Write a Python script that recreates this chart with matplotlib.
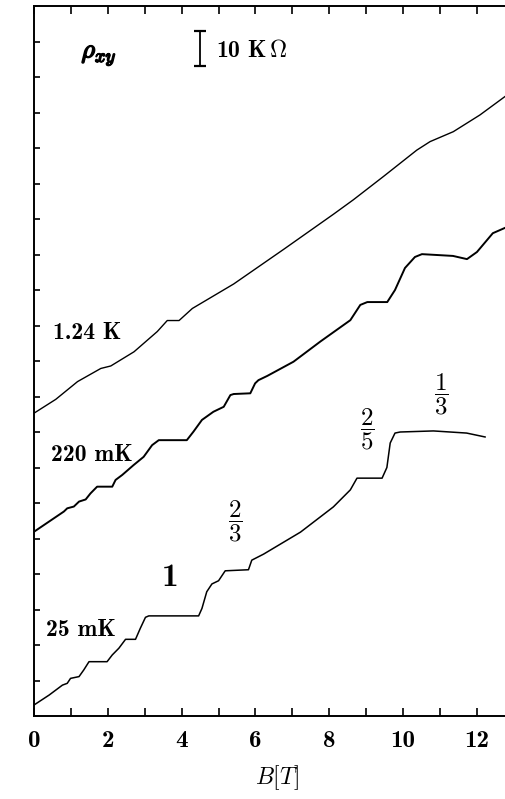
import matplotlib
matplotlib.use("Agg")
import matplotlib.pyplot as plt
from matplotlib.ticker import MultipleLocator, FuncFormatter
import matplotlib.patheffects as pe

plt.rcParams["mathtext.fontset"] = "cm"
# cmb10 ships with matplotlib (Computer Modern bold)
plt.rcParams["font.family"] = ["cmb10", "DejaVu Serif"]

# ---- data: rho_xy in units of 10 kOhm (curves offset vertically) ----
b_124K = [0.0, 0.59, 1.18, 1.81, 2.08, 2.71, 3.34, 3.61, 3.93, 4.29, 5.41,
          6.77, 8.12, 8.65, 9.47, 10.37, 10.73, 11.36, 12.08, 12.76]
r_124K = [8.53, 8.92, 9.42, 9.79, 9.86, 10.26, 10.83, 11.14, 11.14, 11.48,
          12.17, 13.15, 14.14, 14.54, 15.2, 15.94, 16.18, 16.46, 16.93, 17.45]

b_220mK = [0.0, 0.54, 0.81, 0.9, 1.08, 1.22, 1.4, 1.53, 1.71, 2.12, 2.21,
           2.39, 2.7, 2.97, 3.2, 3.38, 4.14, 4.32, 4.55, 4.86, 5.14, 5.32,
           5.41, 5.86, 5.99, 6.08, 6.32, 7.03, 7.76, 8.57, 8.84, 9.03, 9.57,
           9.78, 10.05, 10.32, 10.51, 11.35, 11.73, 12.0, 12.43, 12.76]
r_220mK = [5.19, 5.57, 5.76, 5.85, 5.9, 6.04, 6.1, 6.27, 6.46, 6.46, 6.65,
           6.79, 7.07, 7.3, 7.63, 7.77, 7.77, 8.01, 8.34, 8.57, 8.71, 9.04,
           9.07, 9.09, 9.37, 9.46, 9.58, 9.98, 10.55, 11.15, 11.58, 11.66,
           11.66, 12.0, 12.62, 12.93, 13.01, 12.96, 12.87, 13.07, 13.6, 13.75]

b_25mK = [0.0, 0.41, 0.77, 0.9, 0.99, 1.22, 1.35, 1.49, 1.98, 2.12, 2.3,
          2.48, 2.75, 2.88, 3.02, 3.11, 4.46, 4.55, 4.68, 4.82, 5.0, 5.18,
          5.81, 5.9, 6.22, 7.22, 8.11, 8.57, 8.75, 9.43, 9.56, 9.65, 9.78,
          9.92, 10.82, 11.72, 12.22]
r_25mK = [0.31, 0.59, 0.87, 0.92, 1.06, 1.11, 1.3, 1.53, 1.53, 1.72, 1.91,
          2.16, 2.16, 2.47, 2.78, 2.82, 2.82, 3.03, 3.5, 3.72, 3.81, 4.09,
          4.12, 4.39, 4.56, 5.18, 5.89, 6.37, 6.7, 6.7, 7.0, 7.69, 7.97,
          8.0, 8.03, 7.97, 7.86]

temp_labels = ["1.24 K", "220 mK", "25 mK"]
filling_labels = [r"$\dfrac{2}{3}$", r"$\dfrac{2}{5}$", r"$\dfrac{1}{3}$"]

fig = plt.figure(figsize=(5.05, 7.99), dpi=100)
ax = fig.add_axes([34 / 505, 83 / 799, 471 / 505, 710 / 799])

ax.plot(b_124K, r_124K, color="black", lw=1.0)
ax.plot(b_220mK, r_220mK, color="black", lw=1.4)
ax.plot(b_25mK, r_25mK, color="black", lw=1.1)

ax.set_xlim(0, 12.76)
ax.set_ylim(0, 20)
ax.spines["right"].set_visible(False)
for s in ["left", "top", "bottom"]:
    ax.spines[s].set_linewidth(1.4)

ax.xaxis.set_major_locator(MultipleLocator(2))
ax.xaxis.set_minor_locator(MultipleLocator(1))
ax.yaxis.set_major_locator(MultipleLocator(1))
ax.xaxis.set_major_formatter(FuncFormatter(lambda v, p: "%d" % round(v)))
ax.tick_params(axis="x", which="both", direction="in", top=True, bottom=True,
               length=6, width=1.2, labelsize=18, pad=10)
ax.tick_params(axis="y", which="both", direction="in", left=True, right=False,
               length=4.5, width=1.2, labelleft=False)

fig.text(277 / 505, 1 - 778 / 799, r"$B[T]$", ha="center", va="center", fontsize=17)

# header: rho_xy and scale bar
ax.text(1.76, 18.62, r"$\rho_{xy}$", ha="center", va="center", fontsize=19,
        path_effects=[pe.withStroke(linewidth=1.1, foreground="black")])
ax.plot([4.51, 4.51], [18.3, 19.3], color="black", lw=1.3,
        marker="_", markersize=8, markeredgewidth=1.6)
ax.text(4.92, 18.72, r"10 K$\,\Omega$", ha="left", va="center", fontsize=17)

# temperature labels
for (x, y), s in zip([(0.51, 10.79), (0.46, 7.35), (0.32, 2.42)], temp_labels):
    ax.text(x, y, s, ha="left", va="center", fontsize=17)

ax.text(3.68, 3.89, "1", ha="center", va="center", fontsize=24)
for (x, y), s in zip([(5.46, 5.49), (9.03, 8.08), (11.03, 9.07)], filling_labels):
    ax.text(x, y, s, ha="center", va="center", fontsize=18)

fig.savefig("out.png", dpi=100)
